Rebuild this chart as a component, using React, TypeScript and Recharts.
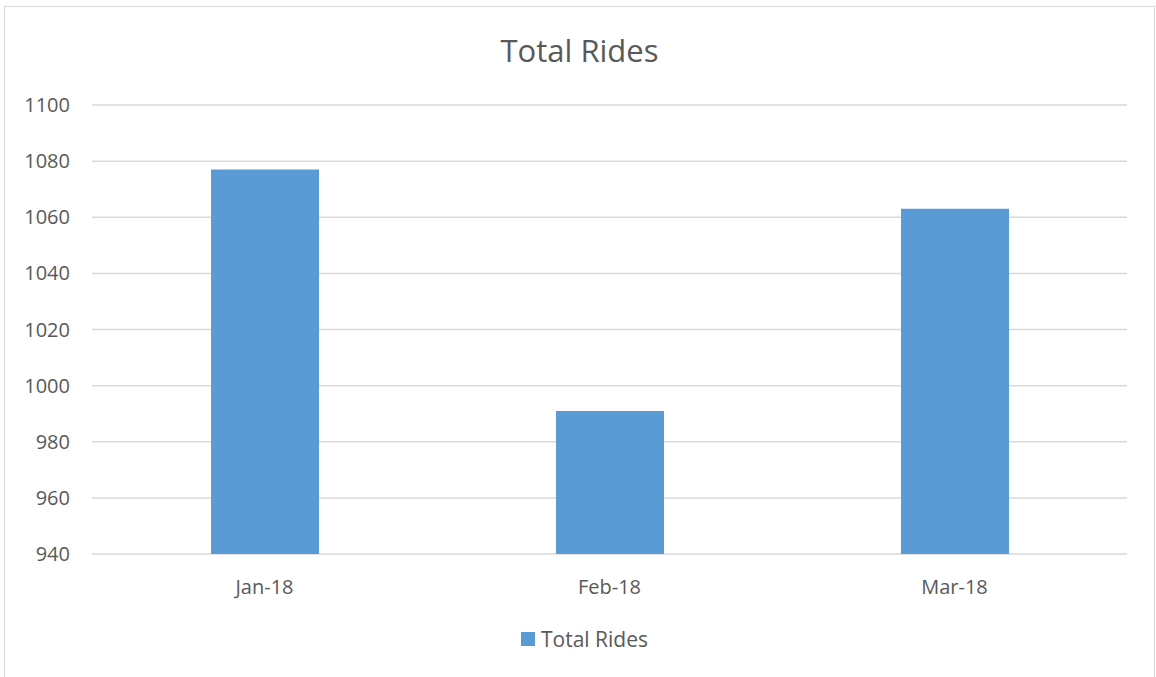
import { Bar, BarChart, CartesianGrid, Legend, XAxis, YAxis } from 'recharts';

const months = ['Jan-18', 'Feb-18', 'Mar-18'];
const totalRides = [1077, 991, 1063];
const yTicks = [940, 960, 980, 1000, 1020, 1040, 1060, 1080, 1100];

const data = months.map((month, i) => ({ month, rides: totalRides[i] }));

const FONT = '"Open Sans", "Noto Sans", sans-serif';
const TEXT = '#595959';
const BLUE = '#5b9bd5';

function LegendContent() {
  return (
    <div
      style={{
        display: 'flex',
        alignItems: 'center',
        justifyContent: 'center',
        height: '100%',
        fontFamily: FONT,
        fontSize: 21,
        color: TEXT,
      }}
    >
      <span style={{ width: 14, height: 14, background: BLUE, marginRight: 6, display: 'inline-block' }} />
      <span>Total Rides</span>
    </div>
  );
}

export default function App() {
  return (
    <div
      style={{
        position: 'absolute',
        left: 0,
        top: 0,
        width: 1156,
        height: 677,
        overflow: 'hidden',
        background: '#fff',
        fontFamily: FONT,
      }}
    >
      <div
        style={{
          position: 'absolute',
          left: 4,
          top: 6,
          width: 1149,
          height: 700,
          border: '1.5px solid #d9d9d9',
        }}
      />
      <div
        style={{
          position: 'absolute',
          left: 4,
          width: 1151,
          top: 35,
          textAlign: 'center',
          fontSize: 31,
          lineHeight: '31px',
          color: TEXT,
        }}
      >
        Total Rides
      </div>
      <div style={{ position: 'absolute', left: 4, top: 6 }}>
        <BarChart
          width={1151}
          height={671}
          data={data}
          margin={{ top: 99, right: 28, left: 0, bottom: 0 }}
          barSize={108}
        >
          <CartesianGrid vertical={false} stroke='#d9d9d9' strokeWidth={1.5} />
          <XAxis
            dataKey='month'
            axisLine={false}
            tickLine={false}
            tickSize={0}
            tickMargin={26}
            height={47}
            tick={{ fill: TEXT, fontSize: 20, fontFamily: FONT }}
          />
          <YAxis
            width={88}
            domain={[940, 1100]}
            ticks={yTicks}
            interval={0}
            axisLine={false}
            tickLine={false}
            tickSize={0}
            tickMargin={22}
            tick={{ fill: TEXT, fontSize: 20, fontFamily: FONT }}
          />
          <Legend
            verticalAlign='bottom'
            content={<LegendContent />}
            wrapperStyle={{ left: 5, width: 1151, height: 76 }}
          />
          <Bar dataKey='rides' name='Total Rides' fill={BLUE} isAnimationActive={false} />
        </BarChart>
      </div>
    </div>
  );
}
